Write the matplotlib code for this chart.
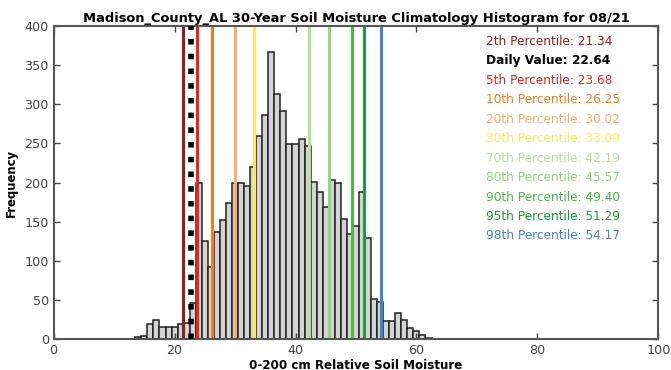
import numpy as np
import matplotlib
matplotlib.use('Agg')
import matplotlib.pyplot as plt

# histogram bins (centres, width 1) and counts
bin_centers = list(range(12, 63))
counts = [1, 1, 3, 4, 20, 24, 16, 16, 16, 19,
          21, 46, 200, 125, 92, 137, 152, 174, 199, 199,
          196, 220, 259, 286, 367, 313, 291, 249, 249, 256,
          247, 201, 188, 169, 203, 200, 153, 135, 144, 188,
          129, 51, 48, 23, 23, 33, 24, 15, 10, 6,
          2]

# percentile lines
labels = ['2th Percentile', 'Daily Value', '5th Percentile', '10th Percentile',
          '20th Percentile', '30th Percentile', '70th Percentile', '80th Percentile',
          '90th Percentile', '95th Percentile', '98th Percentile']
values = [21.34, 22.64, 23.68, 26.25, 30.02, 33.09, 42.19, 45.57, 49.40, 51.29, 54.17]
colors = ['#8b2020', '#000000', '#ee2222', '#ee7f2a', '#f8ae6a', '#f6ec5c',
          '#b8df98', '#94d47a', '#4cb848', '#1f9a3c', '#4a80cc']

fig = plt.figure(figsize=(6.71, 3.70), dpi=100)
ax = fig.add_axes([0.080, 0.083, 0.901, 0.847])

ax.bar(bin_centers, counts, width=1.0, color='#d4d4d4', edgecolor='#222222', linewidth=1.1, zorder=1)

for lab, v, c in zip(labels, values, colors):
    if lab == 'Daily Value':
        ax.axvline(v, color=c, linestyle=':', linewidth=4, zorder=3)
    else:
        ax.axvline(v, color=c, linewidth=2.2, zorder=2)

# legend-like text list on the right
for i, (lab, v, c) in enumerate(zip(labels, values, colors)):
    ax.text(71.5, 380 - 24.8 * i, f'{lab}: {v:.2f}', color=c, fontsize=8.7,
            fontweight='bold' if lab == 'Daily Value' else 'normal',
            va='center', ha='left')

ax.set_xlim(0, 100)
ax.set_ylim(0, 400)
ax.set_xticks([0, 20, 40, 60, 80, 100])
ax.set_yticks(range(0, 401, 50))
ax.tick_params(direction='in', top=True, right=True, length=4, width=1,
               labelsize=9.2, labelcolor='#444444', color='#444444')
for s in ax.spines.values():
    s.set_color('#555555')
    s.set_linewidth(1.5)

ax.set_title('Madison_County_AL 30-Year Soil Moisture Climatology Histogram for 08/21',
             fontsize=9.4, fontweight='bold', pad=3)
ax.set_xlabel('0-200 cm Relative Soil Moisture', fontsize=8.6, fontweight='bold', labelpad=1)
ax.set_ylabel('Frequency', fontsize=8.4, fontweight='bold', labelpad=5)

fig.savefig('out.png', dpi=100)
